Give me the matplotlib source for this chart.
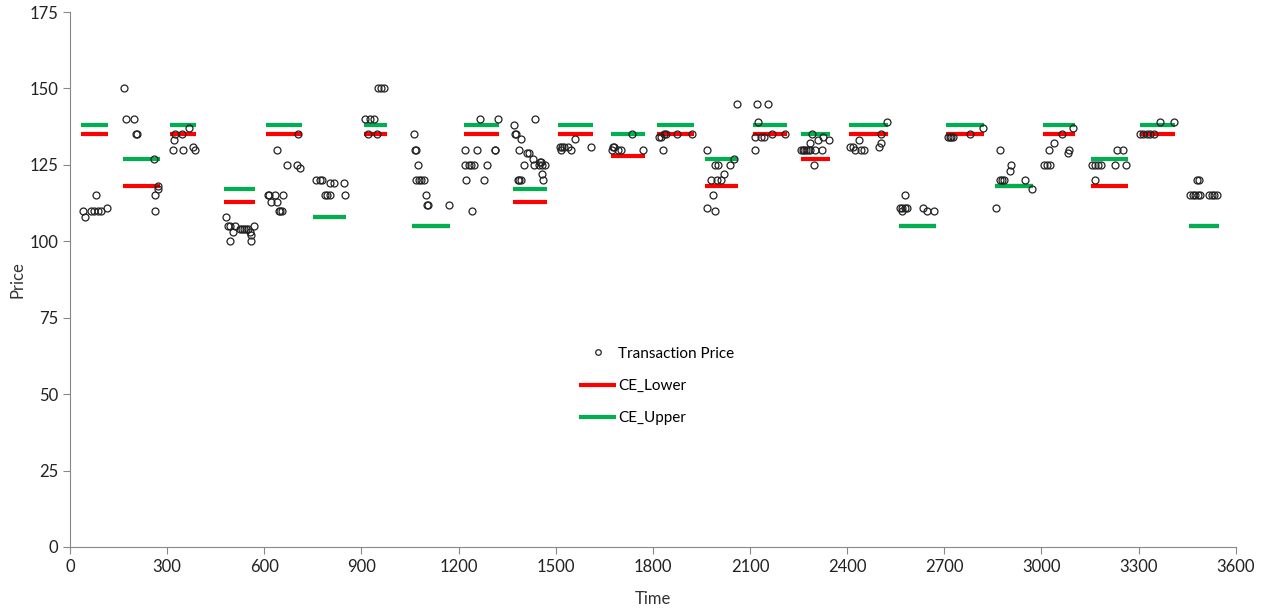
import matplotlib.pyplot as plt

# transaction prices (time, price)
trade_time = [
    39, 46, 64, 75, 85, 95, 80, 114,
    168, 173, 198, 204, 206, 258, 273, 273, 261, 261,
    317, 320, 325, 345, 348, 368, 381, 387,
    482, 488, 495, 502, 495, 510, 526, 531, 537, 543, 549, 557, 560, 560, 569,
    610, 616, 622, 634, 640, 644, 650, 655, 657, 639, 670, 701, 711, 703,
    759, 771, 778, 804, 814, 845, 789, 794, 802, 848,
    952, 961, 969, 912, 926, 940, 920, 948,
    1062, 1065, 1067, 1074, 1069, 1077, 1085, 1093, 1100, 1103, 1105, 1170,
    1221, 1258, 1311, 1313, 1219, 1232, 1239, 1247, 1287, 1224, 1278, 1241, 1266, 1321,
    1370, 1374, 1378, 1392, 1436, 1387, 1412, 1418, 1431, 1433, 1402, 1451, 1456,
    1449, 1458, 1467, 1457, 1462, 1382, 1387, 1392,
    1513, 1520, 1526, 1538, 1516, 1546, 1559, 1608,
    1676, 1680, 1675, 1691, 1701, 1737, 1771,
    1820, 1825, 1835, 1840, 1876, 1921, 1830,
    1967, 1992, 2002, 2038, 1980, 1998, 2010, 2021, 2052, 1985, 1967, 1993,
    2060, 2122, 2155, 2126, 2114, 2134, 2144, 2114, 2168, 2208,
    2258, 2263, 2268, 2273, 2278, 2284, 2301, 2323, 2292, 2284, 2309, 2325, 2343, 2297,
    2408, 2419, 2423, 2443, 2452, 2438, 2497, 2503, 2505, 2523,
    2577, 2562, 2569, 2578, 2585, 2569, 2634, 2648, 2668,
    2712, 2717, 2722, 2727, 2779, 2818,
    2873, 2907, 2902, 2871, 2879, 2885, 2949, 2972, 2861,
    3008, 3016, 3026, 3023, 3039, 3062, 3083, 3086, 3098,
    3155, 3165, 3176, 3183, 3227, 3261, 3232, 3253, 3165,
    3304, 3314, 3325, 3336, 3346, 3366, 3408,
    3480, 3485, 3459, 3467, 3475, 3482, 3490, 3518, 3526, 3533, 3541,
]
trade_price = [
    110, 108, 110, 110, 110, 110, 115, 111,
    150, 140, 140, 135, 135, 127, 118, 117, 115, 110,
    130, 133, 135, 135, 130, 137, 131, 130,
    108, 105, 105, 103, 100, 105, 104, 104, 104, 104, 104, 103, 102, 100, 105,
    115, 115, 113, 115, 113, 110, 110, 110, 115, 130, 125, 125, 124, 135,
    120, 120, 120, 119, 119, 119, 115, 115, 115, 115,
    150, 150, 150, 140, 140, 140, 135, 135,
    135, 130, 130, 125, 120, 120, 120, 120, 115, 112, 112, 112,
    130, 130, 130, 130, 125, 125, 125, 125, 125, 120, 120, 110, 140, 140,
    138, 135, 135, 133.5, 140, 130, 129, 129, 127, 125, 125, 126, 126,
    125, 125, 125, 122, 120, 120, 120, 120,
    131, 131, 131, 131, 130, 130, 133.5, 131,
    131, 131, 130, 130, 130, 135, 130,
    134, 134, 135, 135, 135, 135, 130,
    130, 125, 125, 125, 120, 120, 120, 122, 127, 115, 111, 110,
    145, 145, 145, 139, 134, 134, 134, 130, 135, 135,
    130, 130, 130, 130, 130, 130, 130, 130, 135, 132, 133, 134, 133, 125,
    131, 131, 130, 130, 130, 133, 131, 132, 135, 139,
    115, 111, 111, 111, 111, 110, 111, 110, 110,
    134, 134, 134, 134, 135, 137,
    130, 125, 123, 120, 120, 120, 120, 117, 111,
    125, 125, 125, 130, 132, 135, 129, 130, 137,
    125, 125, 125, 125, 125, 125, 130, 130, 120,
    135, 135, 135, 135, 135, 139, 139,
    120, 120, 115, 115, 115, 115, 115, 115, 115, 115, 115,
]

# competitive equilibrium bands per period
period_start = [34, 164, 309, 476, 606, 751, 909, 1057, 1216, 1367, 1506, 1670,
                1812, 1961, 2109, 2258, 2406, 2561, 2706, 2856, 3006, 3152, 3303, 3455]
period_end = [118, 278, 390, 572, 717, 853, 980, 1175, 1324, 1472, 1614, 1776,
              1927, 2063, 2215, 2348, 2527, 2674, 2824, 2975, 3102, 3266, 3412, 3548]
ce_lower = [135, 118, 135, 113, 135, 108, 135, 105, 135, 113, 135, 128,
            135, 118, 135, 127, 135, 105, 135, 118, 135, 118, 135, 105]
ce_upper = [138, 127, 138, 117, 138, 108, 138, 105, 138, 117, 138, 135,
            138, 127, 138, 135, 138, 105, 138, 118, 138, 127, 138, 105]

plt.rcParams['font.family'] = ['Lato', 'DejaVu Sans']

fig = plt.figure(figsize=(12.61, 6.10), dpi=100)
ax = fig.add_axes([0.0555, 0.1033, 0.9245, 0.877])

ax.hlines(ce_lower, period_start, period_end, color='#ff0000', lw=3, label='CE_Lower', zorder=2)
ax.hlines(ce_upper, period_start, period_end, color='#00b050', lw=3, label='CE_Upper', zorder=2)
ax.plot(trade_time, trade_price, 'o', ms=5, mfc='none', mec='#222222', mew=0.9,
        label='Transaction Price', zorder=3)

ax.set_xlim(0, 3600)
ax.set_ylim(0, 175)
ax.set_xticks(range(0, 3601, 300))
ax.set_yticks(range(0, 176, 25))
ax.set_xlabel('Time', fontsize=12, color='#333333', labelpad=12)
ax.set_ylabel('Price', fontsize=12, color='#333333', labelpad=3)

for s in ['top', 'right']:
    ax.spines[s].set_visible(False)
for s in ['left', 'bottom']:
    ax.spines[s].set_color('#888888')
ax.tick_params(direction='out', length=5, color='#888888', labelsize=12, labelcolor='#222222')

handles, labels = ax.get_legend_handles_labels()
order = [2, 0, 1]
ax.legend([handles[i] for i in order], [labels[i] for i in order],
          loc='upper left', bbox_to_anchor=(0.425, 0.40), frameon=False,
          fontsize=11, labelspacing=1.2, handlelength=2.4, handletextpad=0.15,
          markerscale=0.8)

fig.savefig('out.png', dpi=100)
